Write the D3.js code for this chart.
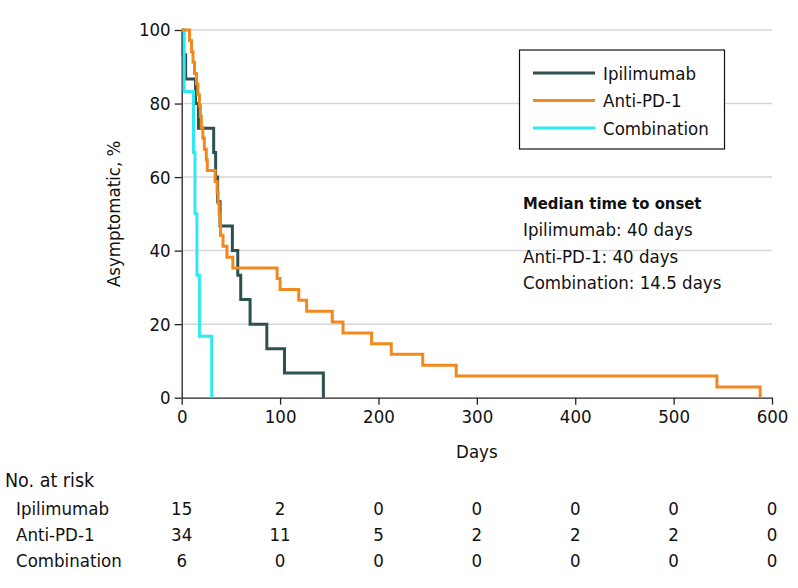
<!DOCTYPE html>
<html>
<head>
<meta charset="utf-8">
<script src="https://cdn.jsdelivr.net/npm/d3@7"></script>
<style>
  body { margin: 0; background: #fff; }
  svg text { font-family: "Liberation Sans Narrow", "Arial Narrow", "DejaVu Sans Condensed", sans-serif; font-stretch: condensed; fill: #111; }
</style>
</head>
<body>
<svg id="chart" width="798" height="588"></svg>
<script>
// ---- data ----
const groups = ["Ipilimumab", "Anti-PD-1", "Combination"];
const colors = ["#2d5050", "#f08a1e", "#2ee8f2"];

const ipiDays   = [0, 1.5, 4, 14, 17, 32.5, 34.5, 36.5, 39, 51.5, 57, 60, 69.5, 86.5, 104.5, 144];
const ipiPct    = [100, 93.3, 86.7, 80, 73.3, 66.7, 60, 53.3, 46.7, 40, 33.3, 26.7, 20, 13.3, 6.7, 0];

const pd1Days   = [0, 8, 10, 11.5, 13, 15, 16.5, 18, 19, 20, 21.5, 23, 25, 26, 34, 36, 37, 38, 39, 39.5, 42, 46, 52, 97, 100, 119, 127, 153, 164, 193, 213, 245, 279, 544, 588];
const pd1Pct    = [100, 97.1, 94.1, 91.2, 88.2, 85.3, 82.4, 79.4, 76.5, 73.5, 70.6, 67.6, 64.7, 61.8, 58.8, 55.9, 52.9, 50.0, 47.1, 44.1, 41.2, 38.2, 35.3, 32.4, 29.4, 26.5, 23.5, 20.6, 17.6, 14.7, 11.8, 8.8, 5.9, 2.9, 0];

const comboDays = [0, 2.5, 12, 13.5, 15.5, 18, 30.5];
const comboPct  = [100, 83.3, 66.7, 50, 33.3, 16.7, 0];

const xTicks = [0, 100, 200, 300, 400, 500, 600];
const yTicks = [0, 20, 40, 60, 80, 100];

const riskIpi   = [15, 2, 0, 0, 0, 0, 0];
const riskPd1   = [34, 11, 5, 2, 2, 2, 0];
const riskCombo = [6, 0, 0, 0, 0, 0, 0];

const medianTitle = "Median time to onset";
const medianLines = ["Ipilimumab: 40 days", "Anti-PD-1: 40 days", "Combination: 14.5 days"];

// ---- drawing ----
const svg = d3.select("#chart");
const x = d3.scaleLinear().domain([0, 600]).range([181.7, 772]);
const y = d3.scaleLinear().domain([0, 100]).range([397.7, 30]);
const FS = 18.5;

// gridlines
svg.append("g").selectAll("line").data(yTicks.filter(d => d > 0)).join("line")
  .attr("x1", x(0)).attr("x2", x(600))
  .attr("y1", d => y(d)).attr("y2", d => y(d))
  .attr("stroke", "#d6d6d6").attr("stroke-width", 1.5);

// axes
const yAxis = svg.append("g").attr("transform", `translate(${x(0)},0)`)
  .call(d3.axisLeft(y).tickValues(yTicks).tickSize(7).tickPadding(4).tickSizeOuter(0));
const xAxis = svg.append("g").attr("transform", `translate(0,${y(0)})`)
  .call(d3.axisBottom(x).tickValues(xTicks).tickSize(7).tickPadding(5).tickSizeOuter(0));
[yAxis, xAxis].forEach(g => {
  g.selectAll("path, line").attr("stroke", "#222").attr("stroke-width", 1.3);
  g.selectAll("text").style("font-size", FS + "px").attr("fill", "#111");
});

// axis titles
svg.append("text").attr("transform", `translate(120,${(y(0) + y(100)) / 2}) rotate(-90)`)
  .attr("text-anchor", "middle").style("font-size", FS + "px").text("Asymptomatic, %");
svg.append("text").attr("x", x(300)).attr("y", 458)
  .attr("text-anchor", "middle").style("font-size", FS + "px").text("Days");

// curves
const series = [
  { days: ipiDays, pct: ipiPct, color: colors[0] },
  { days: comboDays, pct: comboPct, color: colors[2] },
  { days: pd1Days, pct: pd1Pct, color: colors[1] }
];
const line = d3.line().x(d => x(d[0])).y(d => y(d[1])).curve(d3.curveStepAfter);
series.forEach(s => {
  svg.append("path")
    .datum(s.days.map((d, i) => [d, s.pct[i]]))
    .attr("d", line)
    .attr("fill", "none").attr("stroke", s.color).attr("stroke-width", 3)
    .attr("stroke-linejoin", "miter").attr("stroke-linecap", "butt");
});

// legend
const lg = svg.append("g");
lg.append("rect").attr("x", 519.5).attr("y", 50).attr("width", 205).attr("height", 99)
  .attr("fill", "#fff").attr("stroke", "#111").attr("stroke-width", 1.2);
groups.forEach((g, i) => {
  const yy = 73 + i * 27.5;
  lg.append("line").attr("x1", 533).attr("x2", 595).attr("y1", yy).attr("y2", yy)
    .attr("stroke", colors[i]).attr("stroke-width", 3);
  lg.append("text").attr("x", 603).attr("y", yy + 6.5).style("font-size", FS + "px").text(g);
});

// median annotation
svg.append("text").attr("x", 523).attr("y", 209).style("font-size", "16.5px")
  .style("font-weight", "bold").text(medianTitle);
medianLines.forEach((t, i) => {
  svg.append("text").attr("x", 523).attr("y", 236 + i * 26.5).style("font-size", FS + "px").text(t);
});

// at risk table
svg.append("text").attr("x", 5).attr("y", 487).style("font-size", "19.5px").text("No. at risk");
const riskRows = [riskIpi, riskPd1, riskCombo];
riskRows.forEach((row, r) => {
  const yy = 514.5 + r * 26;
  svg.append("text").attr("x", 16).attr("y", yy).style("font-size", FS + "px").text(groups[r]);
  svg.append("g").selectAll("text").data(row).join("text")
    .attr("x", (d, i) => x(xTicks[i])).attr("y", yy)
    .attr("text-anchor", "middle").style("font-size", FS + "px").text(d => d);
});
</script>
</body>
</html>
